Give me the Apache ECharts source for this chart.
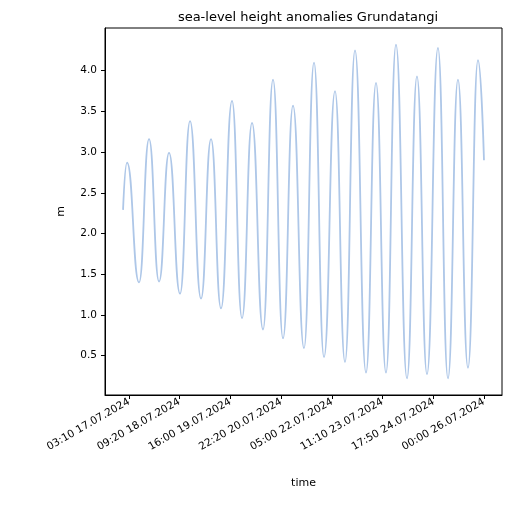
<!DOCTYPE html>
<html>
<head>
<meta charset="utf-8">
<script src="https://cdn.jsdelivr.net/npm/echarts@6/dist/echarts.min.js"></script>
<style>html,body{margin:0;padding:0;background:#fff}#chart{width:511px;height:511px}</style>
</head>
<body>
<div id="chart"></div>
<script>
// hours since 17.07.2024 00:00
var hours = [-0.43, 1.97, 9.16, 15.16, 21.15, 27.15, 33.74, 39.74, 46.33, 52.33, 58.32, 64.92, 70.91,
  76.91, 83.50, 89.50, 95.49, 101.49, 108.08, 114.08, 120.07, 126.67, 132.66, 138.66, 145.25,
  151.25, 157.24, 163.23, 169.83, 175.82, 181.82, 188.41, 194.41, 200.40, 206.40, 212.40, 216.0];
var heights = [2.29, 2.87, 1.40, 3.16, 1.41, 2.99, 1.26, 3.38, 1.20, 3.16, 1.08, 3.63, 0.96,
  3.36, 0.82, 3.89, 0.71, 3.57, 0.59, 4.10, 0.48, 3.75, 0.42, 4.25, 0.29, 3.85, 0.29,
  4.32, 0.22, 3.93, 0.27, 4.28, 0.22, 3.89, 0.35, 4.13, 2.90];
var tickHours = [3.167, 33.333, 64.0, 94.333, 125.0, 155.167, 185.833, 216.0];
var tickLabels = ['03:10 17.07.2024', '09:20 18.07.2024', '16:00 19.07.2024', '22:20 20.07.2024',
  '05:00 22.07.2024', '11:10 23.07.2024', '17:50 24.07.2024', '00:00 26.07.2024'];
var yTicks = [0.5, 1, 1.5, 2, 2.5, 3, 3.5, 4];

var points = hours.map(function (h, i) { return [h, heights[i]]; });
var labelMap = {};
tickHours.forEach(function (h, i) { labelMap[h] = tickLabels[i]; });

var chart = echarts.init(document.getElementById('chart'));
chart.setOption({
  animation: false,
  title: { text: 'sea-level height anomalies Grundatangi', left: 303, textAlign: 'center', top: 6,
    textStyle: { fontFamily: 'DejaVu Sans', fontSize: 13, fontWeight: 'normal', color: '#000' } },
  grid: { left: 105, right: 9, top: 28, bottom: 116, show: true, borderColor: '#000', borderWidth: 1 },
  xAxis: {
    type: 'value', min: -11.25, max: 226.8,
    name: 'time', nameLocation: 'middle', nameGap: 83,
    nameTextStyle: { fontFamily: 'DejaVu Sans', fontSize: 11, color: '#000' },
    splitLine: { show: false },
    axisLine: { show: true, onZero: false, lineStyle: { color: '#000' } },
    axisTick: { customValues: tickHours, length: 4, lineStyle: { color: '#000' } },
    axisLabel: { customValues: tickHours, rotate: 30, margin: 6, color: '#000', fontFamily: 'DejaVu Sans', fontSize: 10.5,
      formatter: function (v) { return labelMap[v] || ''; } }
  },
  yAxis: {
    type: 'value', min: 0.015, max: 4.525,
    name: 'm', nameLocation: 'middle', nameGap: 38,
    nameTextStyle: { fontFamily: 'DejaVu Sans', fontSize: 11, color: '#000' },
    splitLine: { show: false },
    axisLine: { show: true, onZero: false, lineStyle: { color: '#000' } },
    axisTick: { show: true, length: 4, customValues: yTicks, lineStyle: { color: '#000' } },
    axisLabel: { customValues: yTicks, color: '#000', fontFamily: 'DejaVu Sans', fontSize: 10.5,
      formatter: function (v) { return v.toFixed(1); } }
  },
  series: [{
    type: 'line', data: points, smooth: 0.5, smoothMonotone: 'x', showSymbol: false,
    lineStyle: { color: '#aec7e8', width: 1.8 }
  }]
});
</script>
</body>
</html>
